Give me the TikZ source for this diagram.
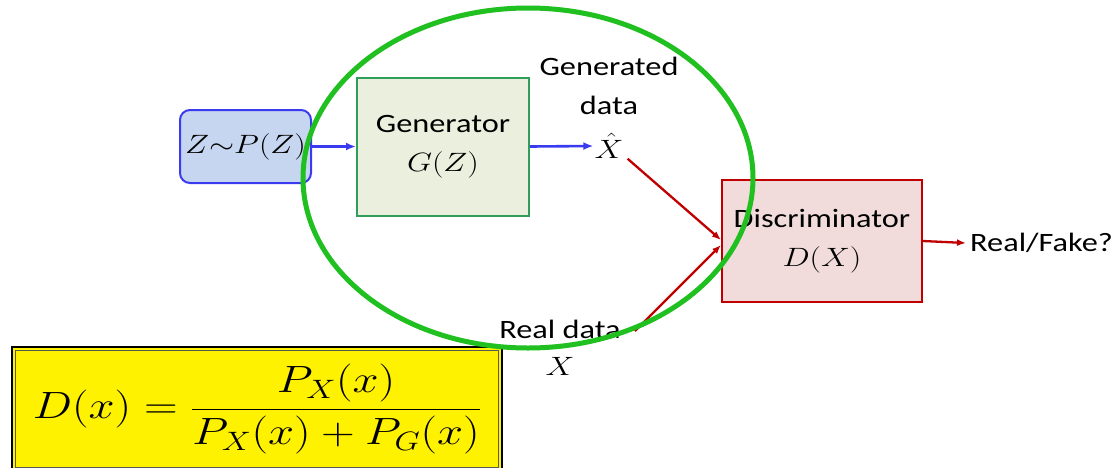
\RequirePackage{fix-cm}
\documentclass[tikz,border=0pt]{standalone}
\usepackage{fontspec}
\setmainfont{Carlito}
\usepackage{graphicx}
\usetikzlibrary{arrows.meta}
\definecolor{zfill}{HTML}{C6D6F0}
\definecolor{zline}{HTML}{3A3AF0}
\definecolor{gfill}{HTML}{EBF0DE}
\definecolor{gline}{HTML}{2E9E58}
\definecolor{dfill}{HTML}{F2DCDB}
\definecolor{dline}{HTML}{C00000}
\definecolor{ring}{HTML}{1FC01F}
\newcommand{\sx}[1]{\scalebox{1.22}[1]{#1}}
\newcommand{\fs}{\fontsize{26.5}{39}\selectfont}
\begin{document}
\begin{tikzpicture}[x=1pt,y=-1pt,
  every node/.style={font=\fs, align=center},
  zbox/.style={draw=zline, fill=zfill, line width=2pt, rounded corners=10pt, minimum width=131pt, minimum height=73pt, inner sep=0pt},
  gbox/.style={draw=gline, fill=gfill, line width=2pt, minimum width=172pt, minimum height=138pt, inner sep=0pt},
  dbox/.style={draw=dline, fill=dfill, line width=2pt, minimum width=200pt, minimum height=122pt, inner sep=0pt},
  fbox/.style={draw=black, fill=yellow, line width=2.5pt, minimum width=490pt, minimum height=124pt, inner sep=0pt},
  barrow/.style={draw=zline, line width=2.6pt, -{Latex[length=10pt,width=8pt]}},
  rarrow/.style={draw=dline, line width=2.3pt, -{Latex[length=9pt,width=7pt]}},
  ringline/.style={draw=ring, line width=5pt}
]
\useasboundingbox (0,0) rectangle (1112,467);
\fill[white] (0,0) rectangle (1112,467);

\node[zbox] (z) at (245.5,146.5) {\sx{$Z{\sim}P(Z)$}};
\node[gbox] (gen) at (443,146.5) {\sx{Generator}\\\sx{$G(Z)$}};
\node[dbox] (disc) at (822,241) {\sx{Discriminator}\\\sx{$D(X)$}};

\node[inner sep=0pt] (gd) at (609,86) {\sx{Generated}\\\sx{data}};
\node[inner sep=1pt] (xhat) at (609,146) {\sx{$\hat{X}$}};
\node[inner sep=2pt] (real) at (560,329) {\sx{Real data}};
\node[inner sep=2pt] (xr) at (560,366) {\sx{$X$}};
\node[anchor=west, inner sep=4pt] (rf) at (966,243) {\sx{Real/Fake?}};

\draw[barrow] (z.east) -- (gen.west);
\draw[barrow] (gen.east) -- (xhat.west);
\draw[rarrow] ([shift={(3,-1)}]xhat.south east) -- ([yshift=1pt]disc.west);
\draw[rarrow] ([shift={(12,2)}]real.east) -- ([yshift=-4pt]disc.west);
\draw[rarrow] (disc.east) -- (rf.west);

\node[fbox] (fm) at (257,409) {\fontsize{38}{46}\selectfont\scalebox{1.23}[1]{$\displaystyle D(x)=\frac{P_X(x)}{P_X(x)+P_G(x)}$}};
\draw[black!65, line width=1pt] ([shift={(4.5,4.5)}]fm.north west) rectangle ([shift={(-4.5,-4.5)}]fm.south east);

\draw[ringline] (528,178) ellipse [x radius=225, y radius=170];
\end{tikzpicture}
\end{document}
